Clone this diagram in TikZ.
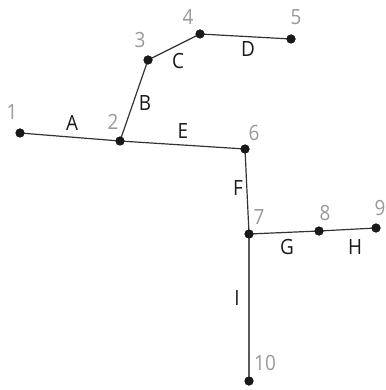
\documentclass[tikz,border=0pt]{standalone}
\usepackage{fontspec}
\setmainfont{Open Sans}[FakeStretch=0.9]
\begin{document}
\begin{tikzpicture}[x=1pt,y=-1pt,
  vtx/.style={circle,fill=black!90,inner sep=0pt,minimum size=9pt},
  edge/.style={line width=1.2pt,draw=black!80},
  num/.style={text=black!40,font=\fontsize{21}{21}\selectfont,inner sep=0pt},
  lab/.style={text=black!90,font=\fontsize{21}{21}\selectfont,inner sep=0pt}]
\useasboundingbox (0,0) rectangle (385,390);
\node[vtx] (n1) at (20,133) {};
\node[vtx] (n2) at (120,141) {};
\node[vtx] (n3) at (148,60) {};
\node[vtx] (n4) at (200,34) {};
\node[vtx] (n5) at (291,39) {};
\node[vtx] (n6) at (245,149) {};
\node[vtx] (n7) at (249,234) {};
\node[vtx] (n8) at (319,231) {};
\node[vtx] (n9) at (376,228) {};
\node[vtx] (n10) at (249,381) {};
\draw[edge] (n1.center) -- (n2.center);
\draw[edge] (n2.center) -- (n3.center);
\draw[edge] (n3.center) -- (n4.center);
\draw[edge] (n4.center) -- (n5.center);
\draw[edge] (n2.center) -- (n6.center);
\draw[edge] (n6.center) -- (n7.center);
\draw[edge] (n7.center) -- (n8.center);
\draw[edge] (n8.center) -- (n9.center);
\draw[edge,draw=black!65] (n7.center) -- (n10.center);
\foreach \n in {1,...,10} {\node[vtx] at (n\n) {};}
\node[num] (t1) at (12,112) {1};
\node[num] (t2) at (113,122) {2};
\node[num] (t3) at (140,40) {3};
\node[num] (t4) at (188,17) {4};
\node[num] (t5) at (296,17) {5};
\node[num] (t6) at (254,133) {6};
\node[num] (t7) at (259,217) {7};
\node[num] (t8) at (325,213) {8};
\node[num] (t9) at (380,208) {9};
\node[num] (t10) at (265,363) {10};
\node[lab] (eA) at (72,123) {A};
\node[lab] (eB) at (145,103) {B};
\node[lab] (eC) at (178,61) {C};
\node[lab] (eD) at (248,49) {D};
\node[lab] (eE) at (183,131) {E};
\node[lab] (eF) at (238,188) {F};
\node[lab] (eG) at (287,247) {G};
\node[lab] (eH) at (355,247) {H};
\node[lab] (eI) at (237,298) {I};
\end{tikzpicture}
\end{document}
